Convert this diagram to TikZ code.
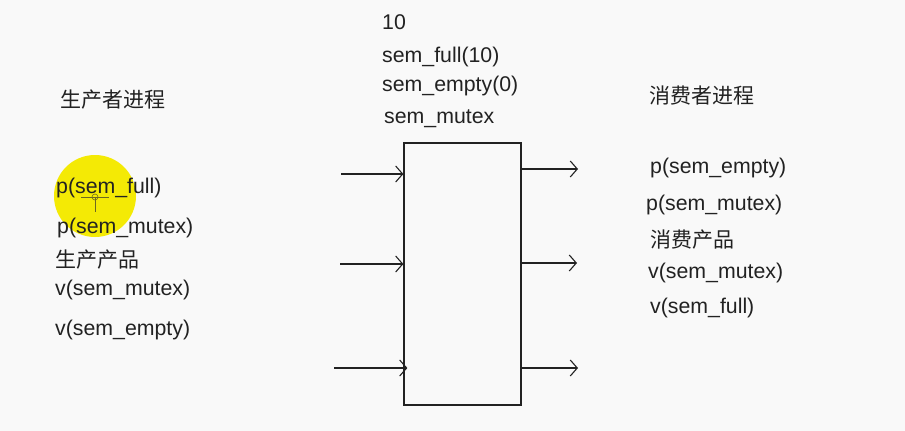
\documentclass[tikz,border=0pt]{standalone}
\usepackage{fontspec}
\setmainfont{Liberation Sans}
\newfontfamily\cjk{Noto Sans CJK SC}
\usetikzlibrary{arrows.meta}
\definecolor{bg}{HTML}{F9F9F9}
\definecolor{ink}{HTML}{222222}
\definecolor{hl}{HTML}{F4EA05}
\tikzset{
  lbl/.style={anchor=west, inner sep=0pt, text=ink, font=\fontsize{21.3}{24}\selectfont, text height=0.75em, text depth=0.25em, yshift=-6pt},
  clbl/.style={lbl, font=\fontsize{21}{24}\selectfont\cjk, yshift=-1.5pt},
  arr/.style={draw=ink, line width=1.1pt, -{Straight Barb[length=7pt,width=16pt,line width=1.1pt]}},
  buf/.style={draw=ink, line width=1.2pt, rectangle, minimum width=117pt, minimum height=262pt, inner sep=0pt}
}
\begin{document}
\begin{tikzpicture}[x=1pt,y=-1pt]
\useasboundingbox[fill=bg] (0,0) rectangle (905,431);
% cursor highlight
\fill[hl] (95,196) circle (41);
\draw[olive!70!black, line width=0.6pt] (81,197) -- (109,197) (95,197) -- (95,212);
\draw[olive!70!black, line width=0.6pt] (95,197) circle (3);
% buffer
\node[buf] (box) at (462.5,274) {};
% left labels
\node[clbl] (ptitle) at (60,97) {生产者进程};
\node[lbl] (p1) at (56,185) {p(sem\_full)};
\node[lbl] (p2) at (57,225) {p(sem\_mutex)};
\node[clbl] (p3) at (55,257) {生产产品};
\node[lbl] (p4) at (55,287) {v(sem\_mutex)};
\node[lbl] (p5) at (55,327) {v(sem\_empty)};
% top labels
\node[lbl] (t1) at (382,21) {10};
\node[lbl] (t2) at (382,54) {sem\_full(10)};
\node[lbl] (t3) at (382,83) {sem\_empty(0)};
\node[lbl] (t4) at (384,115) {sem\_mutex};
% right labels
\node[clbl] (ctitle) at (649,93) {消费者进程};
\node[lbl] (c1) at (650,165) {p(sem\_empty)};
\node[lbl] (c2) at (646,202) {p(sem\_mutex)};
\node[clbl] (c3) at (650,237) {消费产品};
\node[lbl] (c4) at (648,270) {v(sem\_mutex)};
\node[lbl] (c5) at (650,305) {v(sem\_full)};
% arrows into buffer
\coordinate (l1) at (341,174);
\coordinate (l2) at (340,264);
\coordinate (l3) at (334,368);
\draw[arr] (l1) -- (l1 -| box.west);
\draw[arr] (l2) -- (l2 -| box.west);
\draw[arr] (l3) -- ([xshift=4pt]l3 -| box.west);
% arrows out of buffer
\coordinate (r1) at (578,169);
\coordinate (r2) at (577,263);
\coordinate (r3) at (578,368);
\draw[arr] (r1 -| box.east) -- (r1);
\draw[arr] (r2 -| box.east) -- (r2);
\draw[arr] (r3 -| box.east) -- (r3);
\end{tikzpicture}
\end{document}
